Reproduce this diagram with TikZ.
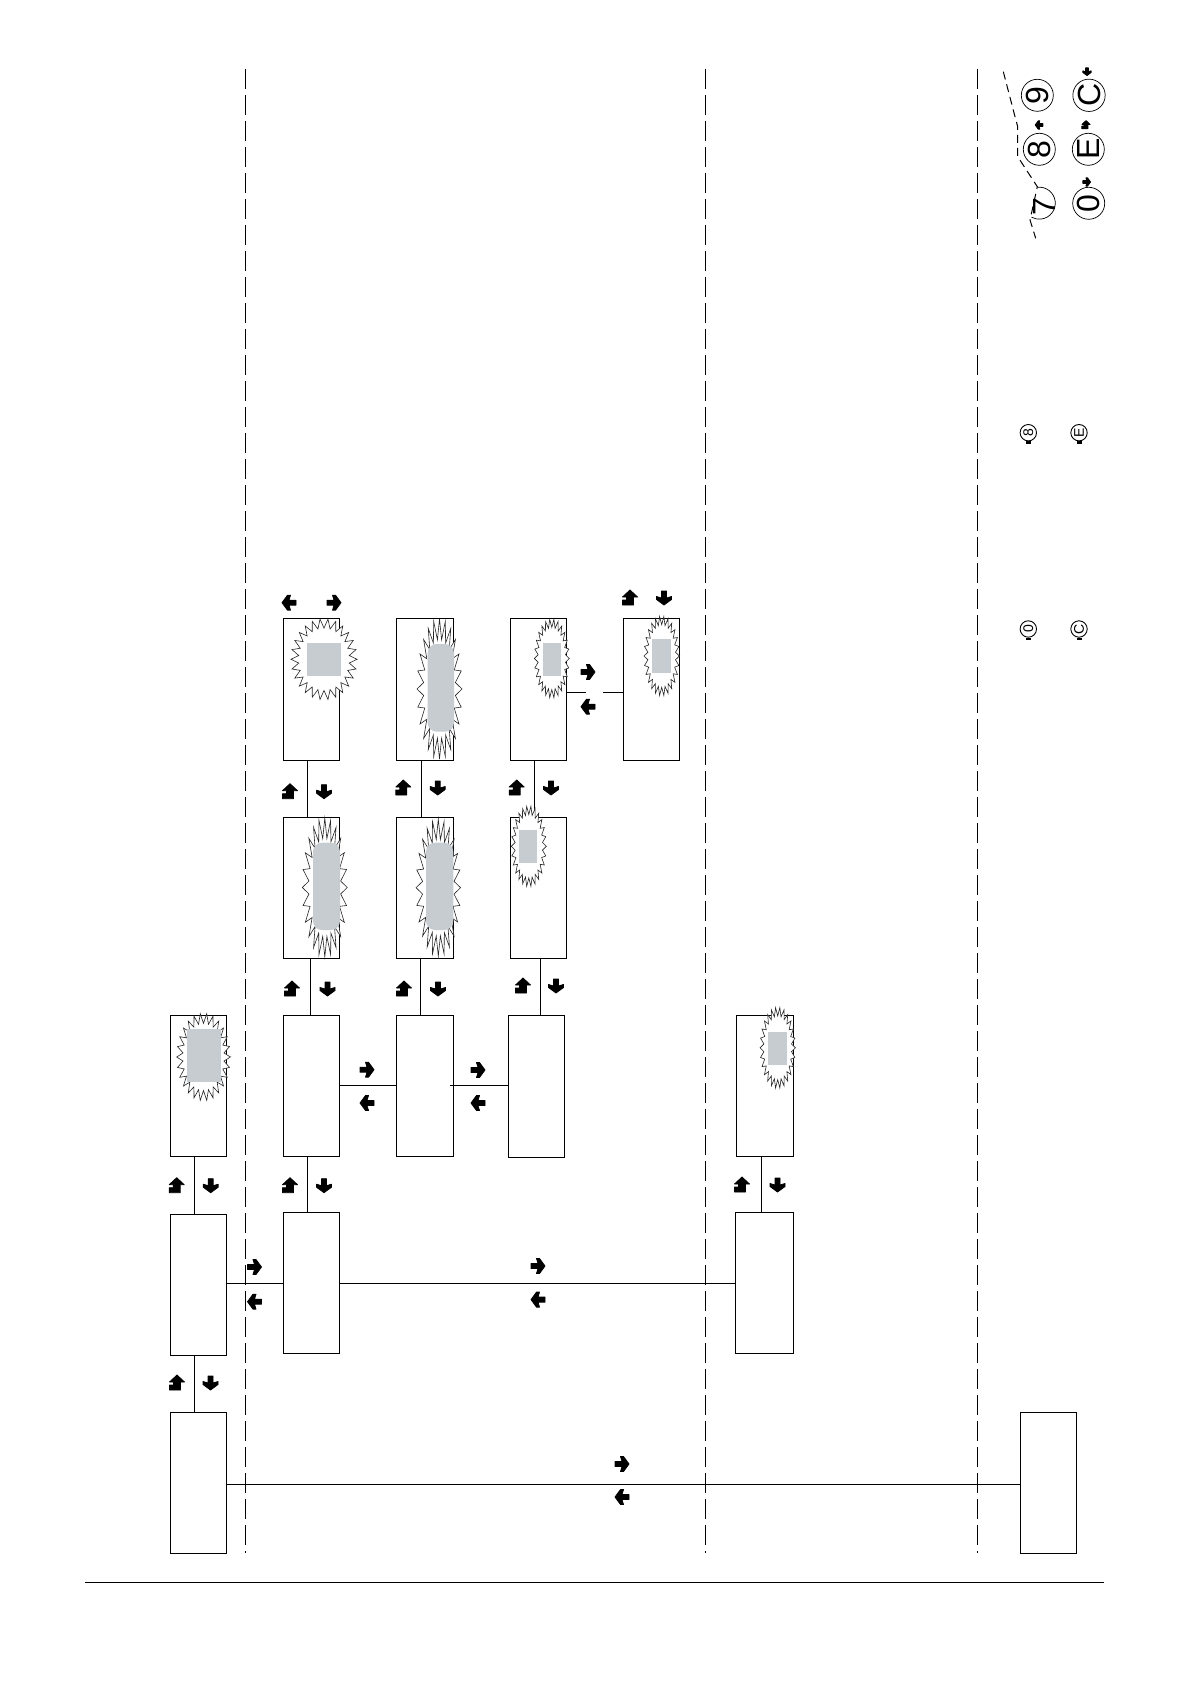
\documentclass[tikz,border=0pt]{standalone}
\usepackage{fontspec}
\setmainfont{Liberation Sans}
\usetikzlibrary{calc}

\definecolor{panelgrey}{HTML}{C7CCD0}

\tikzset{
    keyhead/.pic={\filldraw[line width=0.4pt, line join=round] (-7,-2.5) -- (0,-2.5) -- (-1.5,-7.5) -- (1.5,-7.5) -- (7,0) -- (1.5,7.5) -- (-1.5,7.5) -- (0,2.5) -- (-7,2.5) -- cycle;},
    keylift/.pic={\filldraw[line width=0.4pt, line join=round] (0,-8) -- (7.5,-1) -- (3.5,-1) -- (3.5,7) -- (-7.5,7) -- (-7.5,2) -- (-3.5,2) -- (-3.5,-1) -- (-7.5,-1) -- cycle;}
}

% outer radii of the burst, then spike count and depth
\newcommand{\burst}[6]{%
    \pgfmathtruncatemacro{\burstSamples}{2*#5+1}
    \draw[burstline] plot[domain=0:360, samples=\burstSamples, variable=\t]
        ({#1+#3*cos(\t)*(1+#6*cos(#5*\t))/(1+#6)}, {#2+#4*sin(\t)*(1+#6*cos(#5*\t))/(1+#6)}) -- cycle;
}

\begin{document}
\begin{tikzpicture}[
    x=0.5pt, y=-0.5pt,
    panel/.style     ={draw=black, line width=0.55pt, fill=white, inner sep=0pt, outer sep=0pt, minimum width=28pt, minimum height=71pt},
    linkline/.style  ={line width=0.5pt, black},
    sepline/.style   ={line width=0.5pt, black, dash pattern=on 10pt off 3pt},
    burstline/.style ={line width=0.3pt, draw=black!85, fill=white, line join=miter},
    greyblock/.style ={fill=panelgrey},
    keybig/.style    ={draw=black, line width=0.35pt, circle, inner sep=0pt, minimum size=16pt, rotate=90, font=\fontsize{16}{16}\selectfont},
    keysmall/.style  ={draw=black, line width=0.45pt, circle, inner sep=0pt, minimum size=8.2pt, rotate=90, font=\fontsize{7}{7}\selectfont}
]
\useasboundingbox (0,0) rectangle (1190,1684);

% ---------- column separators and foot rule ----------
\draw[sepline] (245.3,69) -- (245.3,1553);
\draw[sepline] (705.6,69) -- (705.6,1553);
\draw[sepline] (977.3,69) -- (977.3,1553);
\draw[line width=0.5pt] (85,1582) -- (1104,1582);

% ---------- panels ----------
\node[panel] (topA)  at (311.3,689.3)   {};
\node[panel, minimum width=28.5pt] (topB)  at (424.8,689.3) {};
\node[panel] (topC)  at (538.3,689.3)   {};
\node[panel] (topD)  at (651.3,689.3)   {};
\node[panel, minimum height=70.5pt] (midA)  at (311.3,887.7) {};
\node[panel, minimum height=70.5pt, minimum width=28.5pt] (midB) at (424.8,887.7) {};
\node[panel, minimum height=70.5pt] (midC)  at (538.3,887.7) {};
\node[panel, minimum height=70.5pt] (lowL)  at (198.3,1085.8) {};
\node[panel, minimum height=70.5pt] (lowA)  at (311.3,1085.8) {};
\node[panel, minimum height=70.5pt, minimum width=28.5pt] (lowB) at (425,1085.8) {};
\node[panel] (lowC)  at (536.3,1086.3)    {};
\node[panel, minimum height=70.5pt, minimum width=28.5pt] (lowR) at (764.8,1085.8) {};
\node[panel, minimum height=70.5pt] (baseL) at (198.3,1284.8) {};
\node[panel, minimum height=70.5pt] (baseA) at (311.3,1282.8) {};
\node[panel, minimum height=70.5pt, minimum width=29pt] (baseR) at (764.3,1282.8) {};
\node[panel, minimum height=70.5pt] (rootL) at (198.3,1482.8) {};
\node[panel, minimum height=70.5pt] (rootR) at (1048.3,1482.8) {};

% ---------- vertical links ----------
\draw[linkline] (topA.south -| 307.3,0) -- (midA.north -| 307.3,0);
\draw[linkline] (topB.south -| 421.7,0) -- (midB.north -| 421.7,0);
\draw[linkline] (topC.south -| 534.3,0) -- (midC.north -| 534.3,0);
\draw[linkline] (midA.south -| 310.7,0) -- (lowA.north -| 310.7,0);
\draw[linkline] (midB.south -| 420.3,0) -- (lowB.north -| 420.3,0);
\draw[linkline] (midC.south -| 540.7,0) -- (lowC.north -| 540.7,0);
\draw[linkline] (lowL.south -| 194.3,0) -- (baseL.north -| 194.3,0);
\draw[linkline] (lowA.south -| 307.3,0) -- (baseA.north -| 307.3,0);
\draw[linkline] (lowR.south -| 761.3,0) -- (baseR.north -| 761.3,0);
\draw[linkline] (baseL.south -| 194.3,0) -- (rootL.north -| 194.3,0);

% ---------- horizontal links ----------
\coordinate (gapL) at (586,692.3);
\coordinate (gapR) at (603,692.3);
\draw[linkline] (topC.east |- gapL) -- (gapL);
\draw[linkline] (gapR) -- (topD.west |- gapR);
\draw[linkline] (lowA.east |- 0,1085) -- (lowB.west |- 0,1085);
\coordinate (lowBin) at (450,1085);
\draw[linkline] (lowBin) -- (lowC.west |- lowBin);
\draw[linkline] (baseL.east |- 0,1283.5) -- (baseA.west |- 0,1283.5);
\draw[linkline] (baseA.east |- 0,1283.5) -- (baseR.west |- 0,1283.5);
\draw[linkline] (rootL.east |- 0,1484) -- (rootR.west |- 0,1484);

% ---------- flashing fields ----------
\burst{324}{659.3}{33}{40.5}{26}{0.13}
\fill[greyblock] (307,643) rectangle (341,676);
\burst{439.5}{689}{22.5}{70}{24}{0.17}
\fill[greyblock, rounded corners=4.5pt] (427.7,644) rectangle (454,731.7);
\burst{551.8}{658.5}{17.5}{39.5}{26}{0.12}
\fill[greyblock] (543,643) rectangle (561,676);
\burst{661.7}{656}{17.7}{39.8}{26}{0.12}
\fill[greyblock] (652,639) rectangle (671,673);
\burst{324.8}{887.5}{22.5}{69.5}{24}{0.17}
\fill[greyblock, rounded corners=4.5pt] (313,842.7) rectangle (340,930);
\burst{438.3}{887.7}{22.3}{68.5}{24}{0.17}
\fill[greyblock, rounded corners=4.5pt] (426,842.7) rectangle (453.3,930);
\burst{528.8}{846.3}{17.5}{40.3}{26}{0.12}
\fill[greyblock] (519,830) rectangle (536.7,862.7);
\burst{203.5}{1057}{26.8}{43.7}{26}{0.13}
\fill[greyblock] (187,1028.7) rectangle (221.3,1082);
\burst{777.7}{1047.8}{17.7}{40.5}{26}{0.12}
\fill[greyblock] (768,1032) rectangle (786.7,1065);

% ---------- key arrows ----------
\foreach \ax/\ay in {334/602.7, 588/672, 367/1069.7, 478/1070, 254.5/1267, 538/1266, 622/1464}
    \pic at (\ax,\ay) {keyhead};
\foreach \ax/\ay in {289/602.7, 588/706.7, 367/1103, 478/1103, 254.5/1301.7, 538/1299.6, 622/1497}
    \pic[rotate=180] at (\ax,\ay) {keyhead};
\foreach \ax/\ay in {664/598, 324/791.7, 437.7/788, 551/788, 327.5/989, 438/989, 556/986, 210.7/1185.7, 324/1185.7, 777.5/1185, 210.5/1383}
    \pic[rotate=-90] at (\ax,\ay) {keyhead};
\foreach \ax/\ay in {630/598, 290/791.7, 403.3/788, 516.7/788, 292/989, 404/989, 523/986, 176.7/1185.7, 290/1185.7, 742/1185, 177/1383}
    \pic at (\ax,\ay) {keylift};

% ---------- key legend, large ----------
\node[keybig] (keyNine)  at (1037.3,95.3)  {9};
\node[keybig] (keyC)     at (1089,95.3)    {C};
\node[keybig] (keyEight) at (1039.3,149.3) {8};
\node[keybig] (keyE)     at (1088.3,149.3) {E};
\node[keybig, draw=none] (keySeven) at (1044,207) {7};
\node[keybig] (keyZero)  at (1088.7,203.3) {0};
\draw[line width=0.35pt] (1037.3,187.3) arc (-97:119:16);
\draw[line width=0.5pt, dash pattern=on 4pt off 2.5pt]
    (1003.3,71.7) -- (1015,116.7) -- (1017.7,126.7) -- (1017.7,156.7) -- (1037.3,186.7) -- (1030,220) -- (1035.7,238.3);
\pic[scale=0.55, rotate=-90] at (1087,71.7) {keyhead};
\pic[scale=0.55, rotate=180] at (1039,125) {keyhead};
\pic[scale=0.55] at (1086,125) {keylift};
\pic[scale=0.55] at (1086.7,182) {keyhead};

% ---------- key legend, small ----------
\node[keysmall] (smallEight) at (1028.3,432.7) {8};
\node[keysmall] (smallE)     at (1079,432.7)   {E};
\node[keysmall] (smallZero)  at (1028.3,629)   {0};
\node[keysmall] (smallC)     at (1079,629)     {C};
\foreach \k in {smallEight, smallE, smallZero, smallC}
    \fill ($(\k.west)+(-2.5,0)$) rectangle ($(\k.west)+(2.5,2.5)$);

\end{tikzpicture}
\end{document}
